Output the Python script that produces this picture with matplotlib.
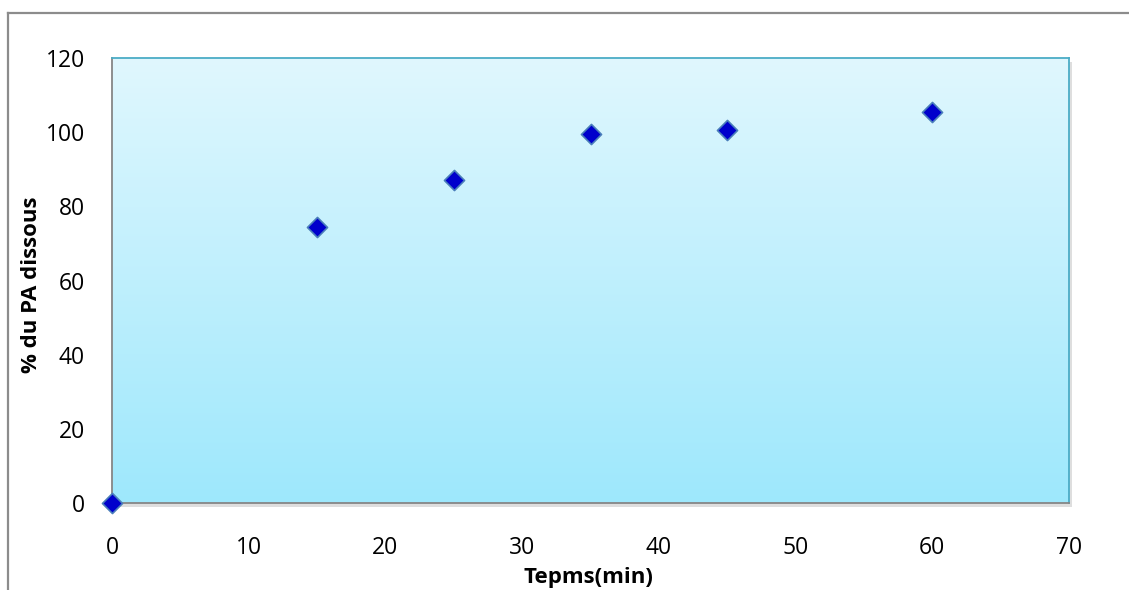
import matplotlib.pyplot as plt
import matplotlib.patches as mpatches
import matplotlib.lines as mlines
import numpy as np

temps = [0, 15, 25, 35, 45, 60]
pa_dissous = [0, 74.5, 87, 99.5, 100.5, 105.5]

x_ticks = [0, 10, 20, 30, 40, 50, 60, 70]
y_ticks = [0, 20, 40, 60, 80, 100, 120]

plt.rcParams['font.family'] = ['Open Sans', 'DejaVu Sans']

W, H = 1129, 590
fig = plt.figure(figsize=(W / 100, H / 100), dpi=100)

# cadre extérieur (gauche et haut seulement)
fig.add_artist(mlines.Line2D([7.5 / W, 7.5 / W], [0, 1 - 12.5 / H],
                             color='#8c8c8c', lw=1.6, transform=fig.transFigure))
fig.add_artist(mlines.Line2D([7.5 / W, 1], [1 - 12.5 / H, 1 - 12.5 / H],
                             color='#8c8c8c', lw=1.6, transform=fig.transFigure))

left, right, top, bottom = 112, 1069, 58, 503
pos = [left / W, 1 - bottom / H, (right - left) / W, (bottom - top) / H]

# ombre de la zone de traçage
fig.add_artist(mpatches.Rectangle((pos[0] + 3 / W, pos[1] - 4 / H), pos[2], pos[3],
                                  transform=fig.transFigure, facecolor='#bfbfbf',
                                  edgecolor='none', alpha=0.5, zorder=0))

ax = fig.add_axes(pos)

# dégradé bleu clair -> cyan
grad = np.linspace(0, 1, 256).reshape(-1, 1)
c_top = np.array([0xE0, 0xF7, 0xFE]) / 255
c_bot = np.array([0x9E, 0xE8, 0xFC]) / 255
img = c_top + grad[..., None] * (c_bot - c_top)
ax.imshow(img, extent=[0, 1, 0, 1], transform=ax.transAxes, aspect='auto', zorder=0)

ax.scatter(temps, pa_dissous, marker='D', s=105, color='#0000cc',
           edgecolors='#4a7ebb', linewidths=1.2, zorder=3, clip_on=False)

ax.set_xlim(0, 70)
ax.set_ylim(0, 120)
ax.set_xticks(x_ticks)
ax.set_yticks(y_ticks)
ax.tick_params(length=0, labelsize=16.5)
ax.tick_params(axis='y', pad=19.5)
ax.tick_params(axis='x', pad=24)

for side in ['top', 'right']:
    ax.spines[side].set_color('#4bacc6')
    ax.spines[side].set_linewidth(1.3)
for side in ['left', 'bottom']:
    ax.spines[side].set_color('#868686')
    ax.spines[side].set_linewidth(1.3)

ax.set_xlabel('Tepms(min)', fontsize=16, fontweight='bold')
ax.set_ylabel('% du PA dissous', fontsize=16, fontweight='bold')
ax.xaxis.set_label_coords(0.498, -0.1685)
ax.yaxis.set_label_coords(-0.0836, 0.49)
ax.xaxis.label.set_va('center')
ax.yaxis.label.set_va('center')

fig.savefig('out.png', dpi=100)
